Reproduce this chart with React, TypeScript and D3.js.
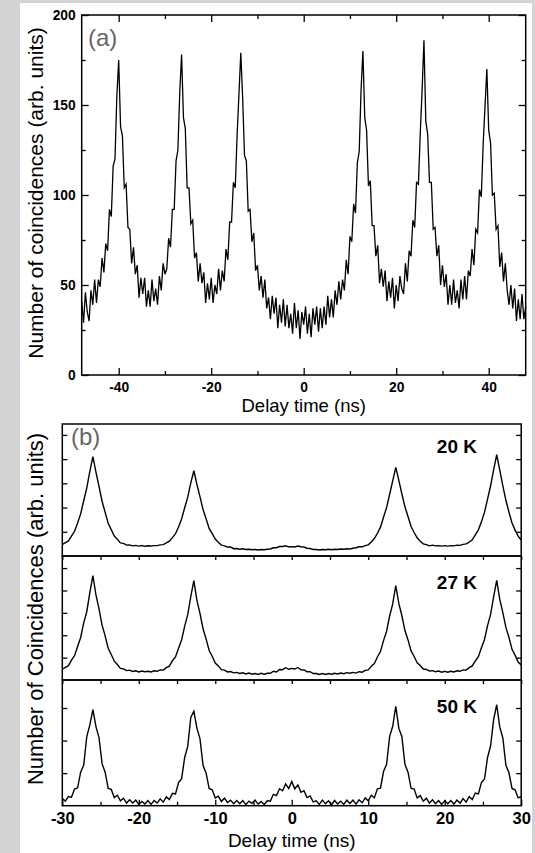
import React, { useEffect, useRef } from 'react';
import * as d3 from 'd3';

const W = 535;
const H = 853;
const FONT = '"Liberation Sans", Arial, Helvetica, sans-serif';

// ---- panel (a): coincidence counts, one sample every 0.4 ns starting at -48 ns ----
const delayStartA = -48;
const delayStepA = 0.4;
const countsA = [
  41, 29, 46, 35, 30, 47, 39, 53, 40, 53, 49, 65, 57, 73, 69, 92, 88, 116, 120, 155, 175,
  138, 133, 104, 106, 82, 81, 62, 71, 56, 61, 43, 54, 45, 54, 38, 47, 38, 53, 41, 48, 39, 55, 47, 62, 56, 59, 76, 71, 92, 92, 119, 125, 157,
  178,
  143, 137, 104, 104, 84, 86, 65, 68, 52, 62, 51, 57, 40, 51, 42, 54, 40, 50, 45, 59, 47, 58, 52, 70, 64, 85, 85, 107, 104, 133, 156,
  179,
  154, 122, 119, 91, 92, 74, 79, 58, 61, 47, 55, 43, 53, 37, 43, 31, 44, 34, 43, 26, 39, 29, 42, 27,
  39, 26, 34, 23, 40, 26, 36, 20, 35, 28, 38, 23, 34, 21, 37, 28, 38, 24, 37, 26,
  38, 28, 44, 32, 42, 32, 47, 39, 52, 42, 53, 47, 64, 56, 77, 74, 95, 90, 118, 124, 158,
  180,
  143, 136, 105, 108, 83, 83, 66, 72, 51, 59, 49, 58, 41, 52, 43, 54, 37, 50, 41, 55, 48, 45, 62, 52, 69, 66, 86, 82, 107, 106, 134, 158,
  186,
  141, 134, 107, 107, 81, 82, 66, 72, 50, 61, 49, 56, 39, 50, 39, 53, 40, 47, 37, 53, 42, 55, 42, 58, 55, 70, 61, 81, 79, 103, 99, 128, 149,
  170,
  136, 129, 100, 101, 81, 83, 60, 68, 52, 62, 47, 39, 50, 37, 48, 30, 42, 31, 45, 31, 38,
];
const xDomainA = [-48, 48];
const yDomainA = [0, 200];
const xTicksA = [-40, -20, 0, 20, 40];
const xMinorTicksA = [-30, -10, 10, 30];
const yTicksA = [0, 50, 100, 150, 200];
const yMinorTicksA = [25, 75, 125, 175];

// ---- panel (b): three temperatures, one sample every 0.4 ns starting at -30 ns ----
const delayStartB = -30;
const delayStepB = 0.4;
const tempLabels = ['20 K', '27 K', '50 K'];
const counts20K = [
  0.47, 0.55, 0.62, 0.82, 1.02, 1.36, 1.74, 2.28, 2.81, 3.49,
  4.1, 3.46, 2.87, 2.26, 1.8, 1.35, 1.09, 0.82, 0.69, 0.54,
  0.52, 0.45, 0.46, 0.42, 0.44, 0.41, 0.43, 0.4, 0.42, 0.41,
  0.43, 0.43, 0.46, 0.47, 0.54, 0.61, 0.76, 0.92, 1.2, 1.53,
  1.99, 2.43, 3.02, 3.52, 2.96, 2.45, 1.92, 1.54, 1.14, 0.92,
  0.7, 0.57, 0.45, 0.42, 0.37, 0.37, 0.3, 0.31, 0.28, 0.3,
  0.27, 0.28, 0.26, 0.27, 0.25, 0.27, 0.26, 0.28, 0.29, 0.34,
  0.34, 0.39, 0.39, 0.42, 0.38, 0.38, 0.37, 0.41, 0.38, 0.37,
  0.32, 0.31, 0.27, 0.27, 0.25, 0.27, 0.26, 0.28, 0.26, 0.28,
  0.27, 0.29, 0.28, 0.3, 0.29, 0.32, 0.34, 0.38, 0.38, 0.43,
  0.46, 0.58, 0.72, 0.94, 1.19, 1.6, 2.0, 2.55, 3.1, 3.66,
  3.12, 2.56, 2.03, 1.63, 1.22, 0.97, 0.75, 0.61, 0.5, 0.47,
  0.42, 0.45, 0.42, 0.43, 0.41, 0.43, 0.41, 0.43, 0.42, 0.45,
  0.44, 0.48, 0.5, 0.57, 0.67, 0.87, 1.08, 1.41, 1.8, 2.35,
  2.9, 3.57, 4.18, 3.55, 2.9, 2.3, 1.81, 1.36, 1.07, 0.82,
  0.66,
];
const counts27K = [
  0.48, 0.56, 0.64, 0.89, 1.09, 1.5, 1.9, 2.55, 3.05, 3.9,
  4.66, 3.8, 3.18, 2.45, 1.97, 1.42, 1.14, 0.84, 0.69, 0.52,
  0.5, 0.42, 0.44, 0.38, 0.41, 0.36, 0.4, 0.37, 0.39, 0.36,
  0.41, 0.39, 0.45, 0.44, 0.55, 0.62, 0.86, 1.03, 1.42, 1.79,
  2.41, 2.92, 3.72, 4.44, 3.56, 2.98, 2.29, 1.84, 1.32, 1.06,
  0.76, 0.63, 0.46, 0.44, 0.36, 0.38, 0.32, 0.34, 0.29, 0.32,
  0.27, 0.31, 0.26, 0.29, 0.25, 0.3, 0.26, 0.3, 0.3, 0.39,
  0.36, 0.47, 0.46, 0.55, 0.48, 0.52, 0.49, 0.56, 0.46, 0.45,
  0.37, 0.37, 0.29, 0.29, 0.25, 0.29, 0.25, 0.29, 0.26, 0.3,
  0.27, 0.31, 0.28, 0.33, 0.3, 0.34, 0.31, 0.37, 0.35, 0.43,
  0.45, 0.62, 0.73, 1.03, 1.27, 1.76, 2.18, 2.86, 3.4, 4.22,
  3.42, 2.87, 2.21, 1.79, 1.3, 1.05, 0.77, 0.65, 0.49, 0.47,
  0.4, 0.42, 0.37, 0.4, 0.35, 0.39, 0.35, 0.39, 0.36, 0.41,
  0.39, 0.45, 0.44, 0.55, 0.63, 0.85, 1.04, 1.44, 1.81, 2.43,
  2.93, 3.72, 4.45, 3.6, 3.01, 2.35, 1.9, 1.37, 1.11, 0.8,
  0.67,
];
const counts50K = [
  0.22, 0.14, 0.28, 0.26, 0.51, 0.55, 1.03, 1.25, 2.12, 2.48,
  2.95, 2.43, 2.09, 1.29, 1.03, 0.53, 0.5, 0.25, 0.32, 0.15,
  0.23, 0.08, 0.18, 0.08, 0.17, 0.04, 0.13, 0.05, 0.16, 0.04,
  0.16, 0.08, 0.21, 0.11, 0.27, 0.19, 0.38, 0.36, 0.71, 0.83,
  1.48, 1.82, 2.71, 2.9, 2.38, 2.06, 1.24, 1.0, 0.53, 0.49,
  0.24, 0.29, 0.13, 0.23, 0.1, 0.17, 0.06, 0.16, 0.06, 0.16,
  0.03, 0.14, 0.07, 0.17, 0.05, 0.13, 0.04, 0.15, 0.14, 0.35,
  0.31, 0.52, 0.46, 0.67, 0.53, 0.74, 0.52, 0.64, 0.41, 0.46,
  0.25, 0.3, 0.12, 0.15, 0.04, 0.17, 0.06, 0.15, 0.03, 0.16,
  0.05, 0.14, 0.04, 0.17, 0.07, 0.17, 0.05, 0.18, 0.09, 0.24,
  0.15, 0.32, 0.24, 0.52, 0.54, 1.05, 1.27, 2.13, 2.44, 3.05,
  2.38, 2.12, 1.27, 1.03, 0.54, 0.51, 0.24, 0.31, 0.14, 0.23,
  0.08, 0.18, 0.06, 0.16, 0.04, 0.15, 0.06, 0.16, 0.05, 0.17,
  0.08, 0.22, 0.11, 0.28, 0.19, 0.39, 0.36, 0.71, 0.82, 1.48,
  1.84, 2.65, 3.1, 2.41, 2.08, 1.24, 1.01, 0.53, 0.49, 0.24,
  0.28,
];
const yMaxB = [5.45, 5.54, 3.86];
const yTicksB = [[1, 2, 3, 4, 5], [1, 2, 3, 4, 5], [1, 2, 3]];
const xDomainB = [-30, 30];
const xTicksB = [-30, -20, -10, 0, 10, 20, 30];
const xMinorTicksB = [-25, -15, -5, 5, 15, 25];

// layout (pixels)
const plotA = { left: 81.7, right: 525.7, top: 15, bottom: 375 };
const plotB = { left: 62.3, right: 521.2 };
const rowsB = [[424, 556], [556, 680], [680, 805.7]];
const tempLabelY = [453, 589, 713];

const fmt = (d: any) => String(d);
const noLabel = () => '';

const App = () => {
  const svgRef = useRef<SVGSVGElement>(null);

  useEffect(() => {
    const svg = d3.select(svgRef.current);
    svg.selectAll('*').remove();

    // grey page with white figure area
    svg.append('rect').attr('width', W).attr('height', H).attr('fill', '#d3d3d3');
    svg.append('rect').attr('x', 20).attr('y', 3).attr('width', 512).attr('height', H - 3).attr('fill', '#fff');

    const addAxis = (axis: any, transform: string, fontSize = 13.8) => {
      const g = svg.append('g').attr('transform', transform).call(axis);
      g.select('.domain').remove();
      g.selectAll('.tick line').attr('stroke', '#000').attr('stroke-width', 1.3);
      g.selectAll('.tick text')
        .attr('fill', '#000')
        .attr('font-family', FONT)
        .attr('font-weight', 'bold')
        .attr('font-size', fontSize);
      return g;
    };

    const addText = (txt: string, x: number, y: number, size: number, opts: any = {}) => {
      const t = svg.append('text')
        .attr('x', x).attr('y', y)
        .attr('font-family', FONT)
        .attr('font-size', size)
        .attr('fill', opts.fill || '#000')
        .attr('font-weight', opts.bold ? 'bold' : 'normal')
        .attr('text-anchor', opts.anchor || 'start')
        .text(txt);
      if (opts.rotate) t.attr('transform', `rotate(-90, ${x}, ${y})`);
      return t;
    };

    // ---------- panel (a) ----------
    const xA = d3.scaleLinear().domain(xDomainA).range([plotA.left, plotA.right]);
    const yA = d3.scaleLinear().domain(yDomainA).range([plotA.bottom, plotA.top]);

    const lineA = d3.line<number>()
      .x((d, i) => xA(delayStartA + delayStepA * i))
      .y(d => yA(d));

    svg.append('path')
      .datum(countsA)
      .attr('d', lineA)
      .attr('fill', 'none')
      .attr('stroke', '#000')
      .attr('stroke-width', 1.3)
      .attr('stroke-linejoin', 'miter');

    svg.append('rect')
      .attr('x', plotA.left).attr('y', plotA.top)
      .attr('width', plotA.right - plotA.left).attr('height', plotA.bottom - plotA.top)
      .attr('fill', 'none').attr('stroke', '#000').attr('stroke-width', 1.5);

    addAxis(d3.axisBottom(xA).tickValues(xTicksA).tickSize(-7).tickPadding(7).tickFormat(fmt), `translate(0,${plotA.bottom})`);
    addAxis(d3.axisBottom(xA).tickValues(xMinorTicksA).tickSize(-4).tickFormat(noLabel), `translate(0,${plotA.bottom})`);
    addAxis(d3.axisTop(xA).tickValues(xTicksA).tickSize(-7).tickFormat(noLabel), `translate(0,${plotA.top})`);
    addAxis(d3.axisTop(xA).tickValues(xMinorTicksA).tickSize(-4).tickFormat(noLabel), `translate(0,${plotA.top})`);
    addAxis(d3.axisLeft(yA).tickValues(yTicksA).tickSize(-7).tickPadding(6).tickFormat(fmt), `translate(${plotA.left},0)`);
    addAxis(d3.axisLeft(yA).tickValues(yMinorTicksA).tickSize(-4).tickFormat(noLabel), `translate(${plotA.left},0)`);
    addAxis(d3.axisRight(yA).tickValues(yTicksA).tickSize(-7).tickFormat(noLabel), `translate(${plotA.right},0)`);
    addAxis(d3.axisRight(yA).tickValues(yMinorTicksA).tickSize(-4).tickFormat(noLabel), `translate(${plotA.right},0)`);

    addText('(a)', 88, 45.5, 24, { fill: '#666' });
    addText('Delay time (ns)', (plotA.left + plotA.right) / 2, 411.5, 18.5, { anchor: 'middle' });
    addText('Number of coincidences (arb. units)', 43, 193, 21, { anchor: 'middle', rotate: true });

    // ---------- panel (b) ----------
    const xB = d3.scaleLinear().domain(xDomainB).range([plotB.left, plotB.right]);
    const seriesB = [counts20K, counts27K, counts50K];

    seriesB.forEach((counts, r) => {
      const [top, bottom] = rowsB[r];
      const yB = d3.scaleLinear().domain([0, yMaxB[r]]).range([bottom, top]);
      const lineB = d3.line<number>()
        .x((d, i) => xB(delayStartB + delayStepB * i))
        .y(d => yB(d));

      svg.append('path')
        .datum(counts)
        .attr('d', lineB)
        .attr('fill', 'none')
        .attr('stroke', '#000')
        .attr('stroke-width', 1.4);

      svg.append('rect')
        .attr('x', plotB.left).attr('y', top)
        .attr('width', plotB.right - plotB.left).attr('height', bottom - top)
        .attr('fill', 'none').attr('stroke', '#000').attr('stroke-width', 1.5);

      addAxis(d3.axisLeft(yB).tickValues(yTicksB[r]).tickSize(-5).tickFormat(noLabel), `translate(${plotB.left},0)`);
      addAxis(d3.axisRight(yB).tickValues(yTicksB[r]).tickSize(-5).tickFormat(noLabel), `translate(${plotB.right},0)`);
      if (r > 0) {
        addAxis(
          d3.axisTop(xB).tickValues([...xTicksB, ...xMinorTicksB]).tickSize(-4).tickFormat(noLabel),
          `translate(0,${top})`
        );
      }

      addText(tempLabels[r], 477, tempLabelY[r], 19, { bold: true, anchor: 'end' });
    });

    const bottomB = rowsB[2][1];
    addAxis(d3.axisBottom(xB).tickValues(xTicksB).tickSize(-6).tickPadding(7).tickFormat(fmt), `translate(0,${bottomB})`, 16.5);
    addAxis(d3.axisBottom(xB).tickValues(xMinorTicksB).tickSize(-4).tickFormat(noLabel), `translate(0,${bottomB})`);

    addText('(b)', 71, 445, 24, { fill: '#666' });
    addText('Delay time (ns)', (plotB.left + plotB.right) / 2, 846.5, 19, { anchor: 'middle' });
    addText('Number of Coincidences (arb. units)', 43, 609, 22, { anchor: 'middle', rotate: true });
  }, []);

  return (
    <div style={{ position: 'absolute', left: 0, top: 0 }}>
      <svg ref={svgRef} width={W} height={H} style={{ display: 'block' }}></svg>
    </div>
  );
};

export default App;
